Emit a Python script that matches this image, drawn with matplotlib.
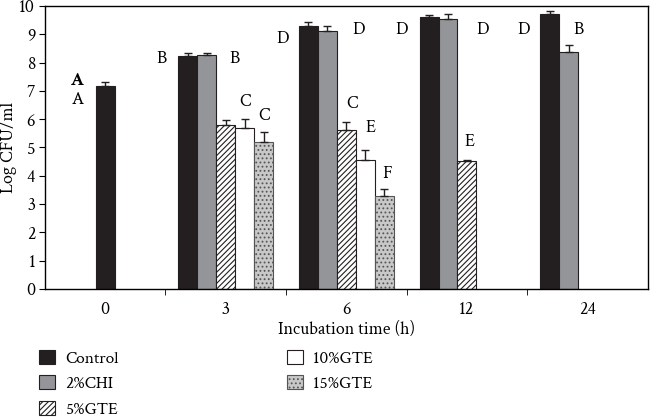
import numpy as np
import matplotlib
matplotlib.use("Agg")
import matplotlib.pyplot as plt
from matplotlib.ticker import FixedLocator

plt.rcParams['font.family'] = ['Crimson Text', 'Liberation Serif', 'DejaVu Serif']
plt.rcParams['hatch.linewidth'] = 0.8

# data
times = ['0', '3', '6', '12', '24']
series = ['Control', '2%CHI', '5%GTE', '10%GTE', '15%GTE']
control = [7.17, 8.23, 9.29, 9.60, 9.70]
chi = [np.nan, 8.25, 9.12, 9.53, 8.36]
gte5 = [np.nan, 5.78, 5.61, 4.53, np.nan]
gte10 = [np.nan, 5.70, 4.55, np.nan, np.nan]
gte15 = [np.nan, 5.20, 3.29, np.nan, np.nan]
err_control = [0.15, 0.12, 0.14, 0.07, 0.13]
err_chi = [0, 0.10, 0.17, 0.20, 0.26]
err_gte5 = [0, 0.20, 0.30, 0.04, 0]
err_gte10 = [0, 0.30, 0.37, 0, 0]
err_gte15 = [0, 0.35, 0.23, 0, 0]

# significance letters: (x, y, text, bold)
letters = [(-0.23, 7.35, 'A', True), (-0.23, 6.68, 'A', False),
           (0.47, 8.13, 'B', False), (1.07, 8.13, 'B', False),
           (1.16, 6.61, 'C', False), (1.32, 6.11, 'C', False),
           (1.47, 8.83, 'D', False), (2.10, 9.15, 'D', False),
           (2.05, 6.54, 'C', False), (2.20, 5.69, 'E', False), (2.34, 4.06, 'F', False),
           (2.46, 9.15, 'D', False), (3.13, 9.15, 'D', False), (3.02, 5.19, 'E', False),
           (3.47, 9.15, 'D', False), (3.93, 9.15, 'B', False)]

values = [control, chi, gte5, gte10, gte15]
errors = [err_control, err_chi, err_gte5, err_gte10, err_gte15]
styles = [dict(color='#231f20', hatch=None),
          dict(color='#939598', hatch=None),
          dict(color='white', hatch='//////'),
          dict(color='white', hatch=None),
          dict(color='#c8c8c8', hatch='....')]

fig = plt.figure(figsize=(6.51, 4.19), dpi=100)
ax = fig.add_axes([0.069, 0.310, 0.926, 0.676])

w = 0.157
x = np.arange(len(times))
for i, (vals, errs, st) in enumerate(zip(values, errors, styles)):
    pos = x + (i - 2) * w
    pos[0] = x[0]  # lone bar at time 0 sits in the middle
    v = np.array(vals, dtype=float)
    e = np.array(errs, dtype=float)
    ok = ~np.isnan(v)
    ax.bar(pos[ok], v[ok], w, color=st['color'], hatch=st['hatch'],
           edgecolor='#231f20' if i != 4 else '#555555', linewidth=0.8, label=series[i])
    ax.errorbar(pos[ok], v[ok], yerr=[np.zeros(ok.sum()), e[ok]], fmt='none',
                ecolor='#231f20', elinewidth=1, capsize=3, capthick=1)

for lx, ly, t, b in letters:
    ax.text(lx, ly, t, fontsize=13, ha='center', va='center',
            fontweight='bold' if b else 'normal')

ax.set_xlim(-0.5, 4.5)
ax.set_ylim(0, 10)
ax.set_yticks(range(0, 11))
ax.set_xticks(x)
ax.set_xticklabels(times)
ax.xaxis.set_minor_locator(FixedLocator([0.5, 1.5, 2.5, 3.5]))
ax.tick_params(axis='x', which='major', length=0, labelsize=13, pad=9)
ax.tick_params(axis='x', which='minor', length=4, direction='out')
ax.tick_params(axis='y', labelsize=13, length=4, direction='out', pad=3)
ax.set_xlabel('Incubation time (h)', fontsize=13, labelpad=2)
ax.set_ylabel('Log CFU/ml', fontsize=13)
ax.yaxis.set_label_coords(-0.047, 0.5)
for s in ax.spines.values():
    s.set_linewidth(1)

ax.legend(loc='upper left', bbox_to_anchor=(-0.035, -0.16), ncol=2, frameon=False,
          fontsize=12.5, handlelength=0.88, handleheight=0.88, handletextpad=0.62,
          columnspacing=9.7, labelspacing=0.47)

fig.savefig('out.png', dpi=100)
